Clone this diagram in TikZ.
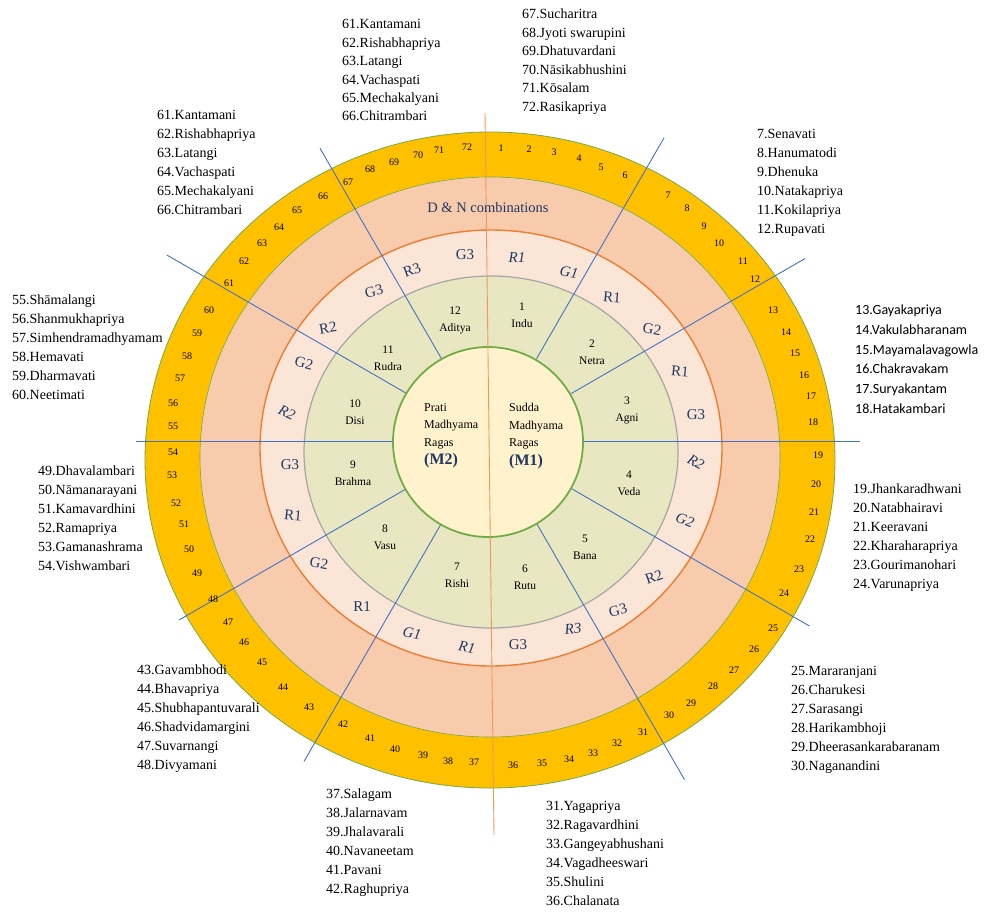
\documentclass[tikz,border=0pt]{standalone}
\usepackage{fontspec}
\setmainfont{Liberation Serif}
\newfontfamily\calibri{Carlito}
\usetikzlibrary{calc}

\definecolor{gold}{HTML}{FFC000}
\definecolor{peach}{HTML}{F8CBAD}
\definecolor{lightpeach}{HTML}{FBE5D6}
\definecolor{sage}{HTML}{E8E7C1}
\definecolor{cream}{HTML}{FFF2CC}
\definecolor{leaf}{HTML}{70AD47}
\definecolor{tangerine}{HTML}{ED7D31}
\definecolor{ash}{HTML}{A5A5A5}
\definecolor{rayblue}{HTML}{4472C4}
\definecolor{navy}{HTML}{1F3864}

\tikzset{
  num/.style={font=\fontsize{10}{10}\selectfont, inner sep=0pt},
  sv/.style={font=\fontsize{15}{15}\selectfont, text=navy, inner sep=0pt},
  sec/.style={font=\fontsize{11.5}{17}\selectfont, align=center, inner sep=0pt},
  names/.style={font=\fontsize{14}{19}\selectfont, align=left, anchor=north west, inner sep=0pt},
  spoke/.style={draw=rayblue, line width=0.9pt}
}

\begin{document}
\begin{tikzpicture}[x=1pt,y=-1pt]
\useasboundingbox (0,0) rectangle (985,911);
\fill[white] (0,0) rectangle (985,911);

% rings
\filldraw[fill=gold, draw=leaf, line width=0.8pt] (490,460) ellipse [x radius=345pt, y radius=328pt];
\filldraw[fill=peach, draw=leaf, line width=0.6pt] (490,457) ellipse [x radius=290pt, y radius=280pt];
\filldraw[fill=lightpeach, draw=tangerine, line width=1.4pt] (491,448) ellipse [x radius=231pt, y radius=218pt];
\filldraw[fill=sage, draw=ash, line width=1.2pt] (491,452) ellipse [x radius=187pt, y radius=176pt];

\coordinate (c) at (489,441);
\foreach \a/\l in {-30/365, -60/350, -120/338, -150/372, 180/353, 0/371, 30/370, 60/391, 120/370, 150/358}
  \draw[spoke] ($(c)+(\a:95)$) -- ($(c)+(\a:\l)$);

\filldraw[fill=cream, draw=leaf, line width=1.8pt] (488,442) circle [radius=95pt];
\draw[tangerine!80, line width=0.9pt] (485,113) -- (494,835);

\node[font=\fontsize{14.5}{15}\selectfont, text=navy] (dn) at (488,208) {D \& N combinations};

% melakarta numbers
\foreach \n/\x/\y in {1/501/148, 2/529/149, 3/554/152, 4/579/158, 5/601/167, 6/625/175,
  7/668/195, 8/687/208, 9/704/226, 10/719/243, 11/743/261, 12/755/279,
  13/773/310, 14/786/332, 15/795/353, 16/804/375, 17/811/396, 18/813/422,
  19/818/455, 20/816/484, 21/814/512, 22/810/539, 23/799/569, 24/784/593,
  25/773/628, 26/754/649, 27/734/670, 28/713/686, 29/691/703, 30/669/715,
  31/643/732, 32/617/743, 33/593/753, 34/569/759, 35/542/763, 36/513/765,
  37/474/762, 38/448/761, 39/423/755, 40/395/749, 41/370/738, 42/343/724,
  43/309/707, 44/283/687, 45/262/662, 46/244/642, 47/228/622, 48/213/599,
  49/197/573, 50/189/549, 51/184/524, 52/176/503, 53/172/475, 54/173/452,
  55/173/426, 56/173/403, 57/180/378, 58/187/356, 59/197/333, 60/209/310,
  61/229/283, 62/244/261, 63/262/243, 64/279/227, 65/297/210, 66/323/196,
  67/348/182, 68/370/169, 69/394/162, 70/418/155, 71/439/150, 72/467/147}
  \node[num] (n\n) at (\x,\y) {\n};

% R and G swaras
\foreach \t/\x/\y/\r [count=\k] in {R2/328/328/10, G3/374/291/15, R3/412/270/20, G3/465/255/0,
  R1/612/297/-5, G2/652/329/-10, R1/680/371/-5, G3/696/415/0,
  R2/654/577/20, G3/618/610/15, G3/518/645/0,
  R1/362/607/0, G2/319/563/-10, R1/293/515/-5, G3/290/465/0, G2/304/363/-15}
  \node[sv, rotate=\r] (s\k) at (\x,\y) {\t};
\foreach \t/\x/\y/\r [count=\k] in {R1/517/258/0, G1/569/272/-10, R2/696/462/-30, G2/685/520/-20,
  R3/573/629/5, R1/467/647/-10, G1/412/633/-10, R2/287/413/-25}
  \node[sv, rotate=\r] (i\k) at (\x,\y) {\itshape\t};

% chakras
\foreach \k/\nm/\x/\y in {1/Indu/522/315, 2/Netra/592/352, 3/Agni/627/410, 4/Veda/629/483,
  5/Bana/585/547, 6/Rutu/525/577, 7/Rishi/457/575, 8/Vasu/385/537,
  9/Brahma/353/473, 10/Disi/355/412, 11/Rudra/388/358, 12/Aditya/455/320}
  \node[sec] (m\k) at (\x,\y) {\k\\\nm};

\node[font=\fontsize{12}{17.5}\selectfont, align=left, anchor=north west, inner sep=0pt] (m2) at (424,403)
  {Prati\\Madhyama\\Ragas\\[1pt]{\fontsize{16}{18}\selectfont\bfseries\color{navy}(M2)}};
\node[font=\fontsize{12}{17.5}\selectfont, align=left, anchor=north west, inner sep=0pt] (m1) at (509,403)
  {Sudda\\Madhyama\\Ragas\\[1pt]{\fontsize{16}{18}\selectfont\bfseries\color{navy}(M1)}};

% raga names
\node[names] (l7) at (757,129.5) {7.Senavati\\8.Hanumatodi\\9.Dhenuka\\10.Natakapriya\\11.Kokilapriya\\12.Rupavati};
\node[names, font=\calibri\fontsize{14}{19.8}\selectfont] (l13) at (855,304.5) {13.Gayakapriya\\14.Vakulabharanam\\15.Mayamalavagowla\\16.Chakravakam\\17.Suryakantam\\18.Hatakambari};
\node[names] (l19) at (853,483.5) {19.Jhankaradhwani\\20.Natabhairavi\\21.Keeravani\\22.Kharaharapriya\\23.Gourimanohari\\24.Varunapriya};
\node[names] (l25) at (791,666.5) {25.Mararanjani\\26.Charukesi\\27.Sarasangi\\28.Harikambhoji\\29.Dheerasankarabaranam\\30.Naganandini};
\node[names] (l31) at (546,801.5) {31.Yagapriya\\32.Ragavardhini\\33.Gangeyabhushani\\34.Vagadheeswari\\35.Shulini\\36.Chalanata};
\node[names] (l37) at (326,788.5) {37.Salagam\\38.Jalarnavam\\39.Jhalavarali\\40.Navaneetam\\41.Pavani\\42.Raghupriya};
\node[names] (l43) at (137,664.5) {43.Gavambhodi\\44.Bhavapriya\\45.Shubhapantuvarali\\46.Shadvidamargini\\47.Suvarnangi\\48.Divyamani};
\node[names] (l49) at (38,465.5) {49.Dhavalambari\\50.Nāmanarayani\\51.Kamavardhini\\52.Ramapriya\\53.Gamanashrama\\54.Vishwambari};
\node[names] (l55) at (12,294.5) {55.Shāmalangi\\56.Shanmukhapriya\\57.Simhendramadhyamam\\58.Hemavati\\59.Dharmavati\\60.Neetimati};
\node[names] (l61) at (157,110.5) {61.Kantamani\\62.Rishabhapriya\\63.Latangi\\64.Vachaspati\\65.Mechakalyani\\66.Chitrambari};
\node[names, font=\fontsize{14}{18.4}\selectfont] (t61) at (342,19.5) {61.Kantamani\\62.Rishabhapriya\\63.Latangi\\64.Vachaspati\\65.Mechakalyani\\66.Chitrambari};
\node[names, font=\fontsize{14}{18.6}\selectfont] (l67) at (522,8.5) {67.Sucharitra\\68.Jyoti swarupini\\69.Dhatuvardani\\70.Nāsikabhushini\\71.Kōsalam\\72.Rasikapriya};
\end{tikzpicture}
\end{document}
